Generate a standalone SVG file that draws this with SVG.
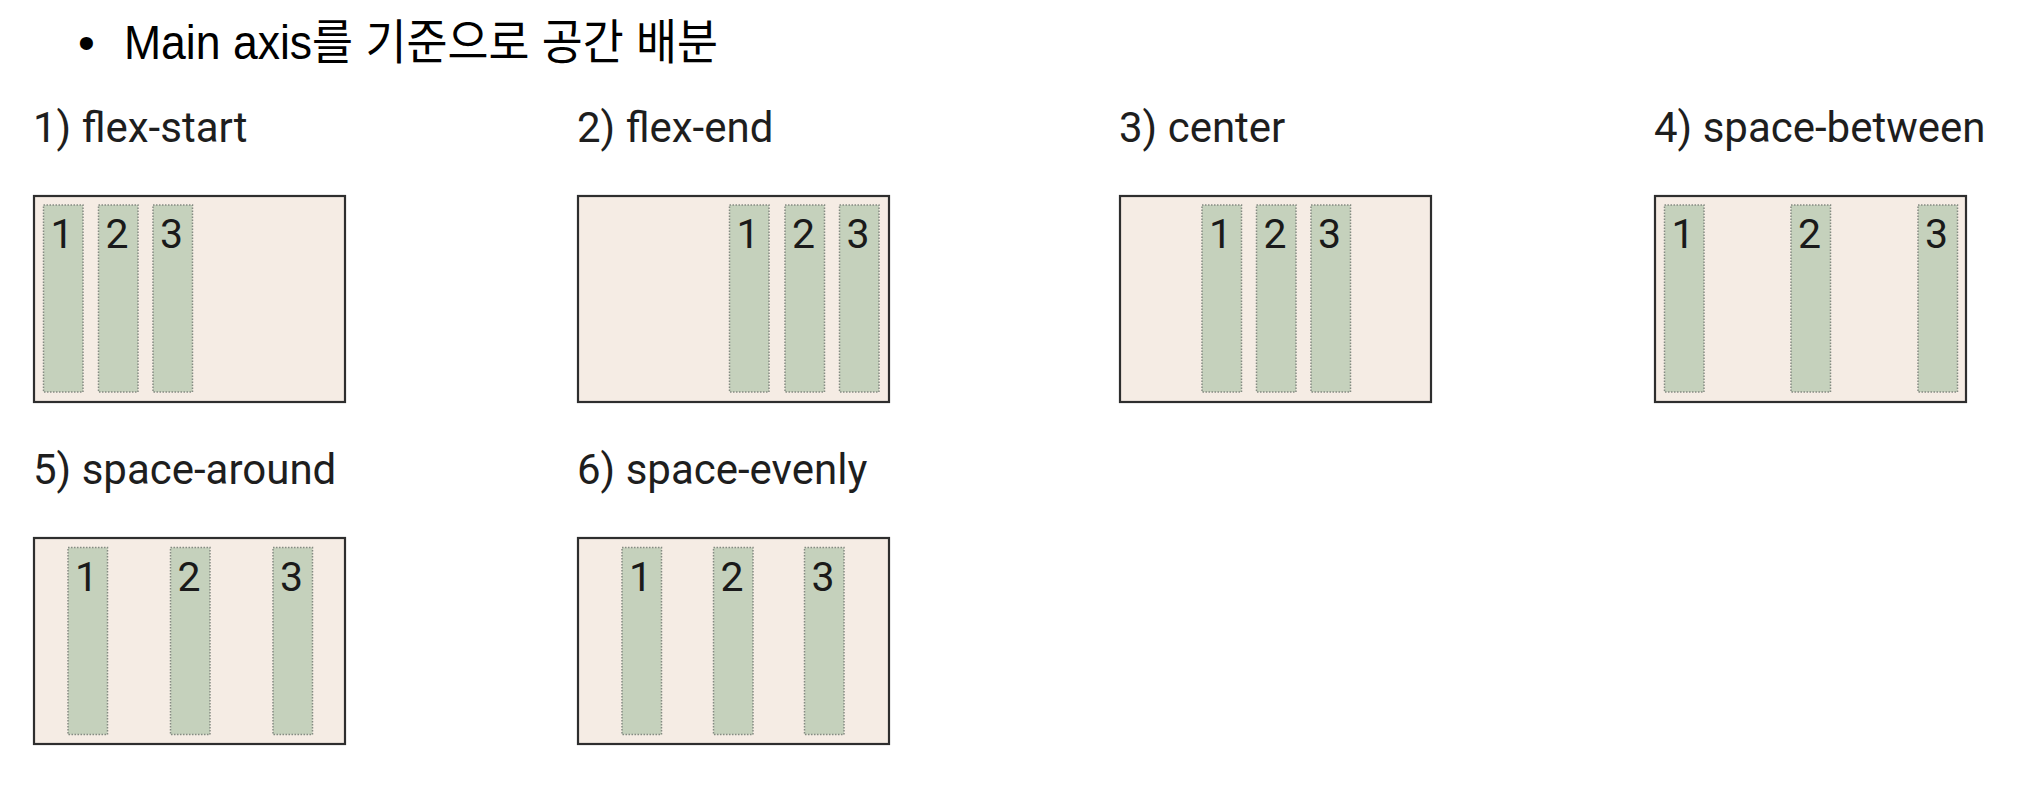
<svg xmlns="http://www.w3.org/2000/svg" width="2030" height="788" viewBox="0 0 2030 788">
<style>
.bg{fill:#ffffff}
.title{font-family:"Liberation Sans","Noto Sans CJK KR",sans-serif;font-size:48px;fill:#000}
.lbl{font-family:Roboto,"Liberation Sans",sans-serif;font-size:42px;fill:#1e1e1e}
.box{fill:#f5ece4;stroke:#2e2e2e;stroke-width:2.2}
.item{fill:#c5d1bc;stroke:#858b82;stroke-width:1.5;stroke-dasharray:1.5 1.5}
.num{font-family:Roboto,"Liberation Sans",sans-serif;font-size:41px;fill:#1a1a1a}
</style>
<rect class="bg" x="0" y="0" width="2030" height="788"/>
<g id="title">
<text class="title" x="78" y="59">•</text>
<text class="title" x="124" y="59" textLength="594" lengthAdjust="spacingAndGlyphs">Main axis를 기준으로 공간 배분</text>
</g>
<g id="connectors"/>
<g id="flex-start">
<text class="lbl" x="33" y="141.5">1) flex-start</text>
<rect class="box" x="34" y="196" width="311" height="206"/>
<rect class="item" x="43.5" y="205" width="39.5" height="187"/>
<rect class="item" x="98.5" y="205" width="39.5" height="187"/>
<rect class="item" x="153" y="205" width="39.5" height="187"/>
<text class="num" x="50.5" y="248">1</text>
<text class="num" x="105.5" y="248">2</text>
<text class="num" x="160" y="248">3</text>
</g>
<g id="flex-end">
<text class="lbl" x="577" y="141.5">2) flex-end</text>
<rect class="box" x="578" y="196" width="311" height="206"/>
<rect class="item" x="729.5" y="205" width="39.5" height="187"/>
<rect class="item" x="785" y="205" width="39.5" height="187"/>
<rect class="item" x="839.5" y="205" width="39.5" height="187"/>
<text class="num" x="736.5" y="248">1</text>
<text class="num" x="792" y="248">2</text>
<text class="num" x="846.5" y="248">3</text>
</g>
<g id="center">
<text class="lbl" x="1119" y="141.5">3) center</text>
<rect class="box" x="1120" y="196" width="311" height="206"/>
<rect class="item" x="1202" y="205" width="39.5" height="187"/>
<rect class="item" x="1256.5" y="205" width="39.5" height="187"/>
<rect class="item" x="1311" y="205" width="39.5" height="187"/>
<text class="num" x="1209" y="248">1</text>
<text class="num" x="1263.5" y="248">2</text>
<text class="num" x="1318" y="248">3</text>
</g>
<g id="space-between">
<text class="lbl" x="1654" y="141.5">4) space-between</text>
<rect class="box" x="1655" y="196" width="311" height="206"/>
<rect class="item" x="1664.5" y="205" width="39.5" height="187"/>
<rect class="item" x="1791" y="205" width="39.5" height="187"/>
<rect class="item" x="1918" y="205" width="39.5" height="187"/>
<text class="num" x="1671.5" y="248">1</text>
<text class="num" x="1798" y="248">2</text>
<text class="num" x="1925" y="248">3</text>
</g>
<g id="space-around">
<text class="lbl" x="33" y="483.5">5) space-around</text>
<rect class="box" x="34" y="538" width="311" height="206"/>
<rect class="item" x="68" y="547.5" width="39.5" height="187"/>
<rect class="item" x="170.5" y="547.5" width="39.5" height="187"/>
<rect class="item" x="273" y="547.5" width="39.5" height="187"/>
<text class="num" x="75" y="590.5">1</text>
<text class="num" x="177.5" y="590.5">2</text>
<text class="num" x="280" y="590.5">3</text>
</g>
<g id="space-evenly">
<text class="lbl" x="577" y="483.5">6) space-evenly</text>
<rect class="box" x="578" y="538" width="311" height="206"/>
<rect class="item" x="622" y="547.5" width="39.5" height="187"/>
<rect class="item" x="713.5" y="547.5" width="39.5" height="187"/>
<rect class="item" x="804.5" y="547.5" width="39.5" height="187"/>
<text class="num" x="629" y="590.5">1</text>
<text class="num" x="720.5" y="590.5">2</text>
<text class="num" x="811.5" y="590.5">3</text>
</g>
</svg>
